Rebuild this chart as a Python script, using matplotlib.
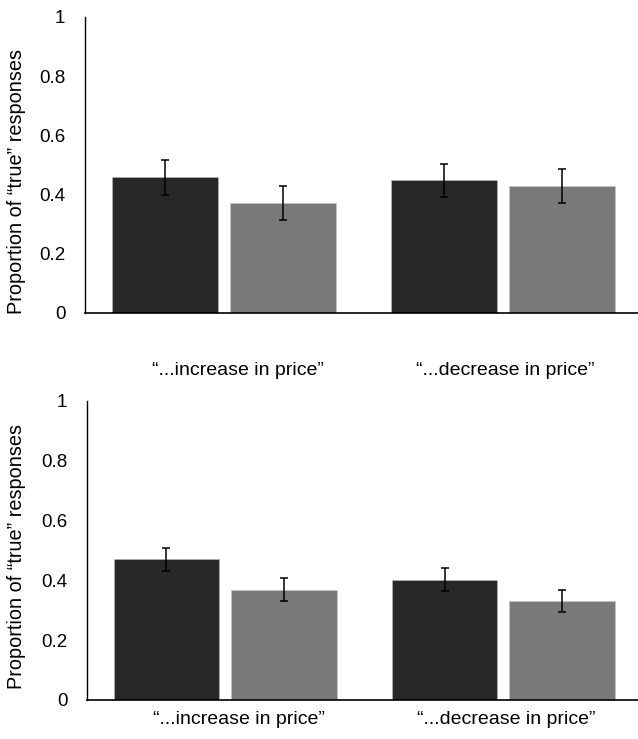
import numpy as np
import matplotlib.pyplot as plt

plt.rcParams['font.family'] = ['Liberation Sans', 'DejaVu Sans']

categories = ['\u201c...increase in price\u201d', '\u201c...decrease in price\u201d']

# top panel
top_dark = [0.458, 0.448]
top_dark_err = [0.058, 0.056]
top_gray = [0.371, 0.430]
top_gray_err = [0.057, 0.057]

# bottom panel
bot_dark = [0.470, 0.402]
bot_dark_err = [0.037, 0.038]
bot_gray = [0.369, 0.331]
bot_gray_err = [0.039, 0.036]

dark_col = '#282828'
gray_col = '#797979'


def draw_panel(ax, dark, dark_err, gray, gray_err, xpad, ylab_x, ylab_y):
    x = np.arange(len(categories))
    off = 0.2115
    w = 0.38
    ax.bar(x - off, dark, w, color=dark_col, edgecolor='#bdbdbd', linewidth=0.4,
           yerr=dark_err, error_kw=dict(ecolor='black', elinewidth=1.1, capsize=3, capthick=1.1))
    ax.bar(x + off, gray, w, color=gray_col, edgecolor='#c8c8c8', linewidth=0.4,
           yerr=gray_err, error_kw=dict(ecolor='black', elinewidth=1.1, capsize=3, capthick=1.1))
    ax.set_xlim(-0.498, 1.484)
    ax.set_ylim(0, 1)
    ax.set_yticks([0, 0.2, 0.4, 0.6, 0.8, 1])
    ax.set_yticklabels(['0', '0.2', '0.4', '0.6', '0.8', '1'])
    ax.set_xticks([0.05, 1.01])
    ax.set_xticklabels(categories)
    ax.tick_params(axis='x', length=0, pad=xpad, labelsize=14)
    ax.tick_params(axis='y', length=0, pad=14, labelsize=13.5)
    ax.spines['top'].set_visible(False)
    ax.spines['right'].set_visible(False)
    ax.spines['left'].set_linewidth(1.0)
    ax.spines['bottom'].set_linewidth(1.2)
    ax.set_ylabel('Proportion of \u201ctrue\u201d responses', fontsize=14.3)
    ax.yaxis.label.set_va('center')
    ax.yaxis.set_label_coords(ylab_x, ylab_y)


fig = plt.figure(figsize=(6.38, 7.39), dpi=100)
ax1 = fig.add_axes([0.133, 0.5765, 0.867, 0.4005])
ax2 = fig.add_axes([0.136, 0.0528, 0.864, 0.4046])

draw_panel(ax1, top_dark, top_dark_err, top_gray, top_gray_err, 35, -0.124, 0.443)
draw_panel(ax2, bot_dark, bot_dark_err, bot_gray, bot_gray_err, 8, -0.128, 0.48)

fig.savefig('out.png', dpi=100)
